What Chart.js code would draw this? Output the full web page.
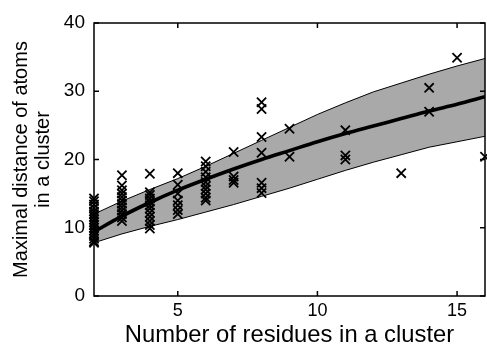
<!DOCTYPE html>
<html>
<head>
<meta charset="utf-8">
<script src="https://cdn.jsdelivr.net/npm/chart.js@4/dist/chart.umd.min.js"></script>
<style>
html,body{margin:0;padding:0;background:#fff;}
#wrap{width:487px;height:347px;}
</style>
</head>
<body>
<div id="wrap"><canvas id="c" width="487" height="347"></canvas></div>
<script>
// ---- data ----
const scatterX = [
  2,2,2,2,2,2,2,2,2,2,2,2,2,2,2,2,2,
  3,3,3,3,3,3,3,3,3,3,3,3,
  4,4,4,4,4,4,4,4,4,4,4,4,
  5,5,5,5,5,5,5,
  6,6,6,6,6,6,6,6,6,6,
  7,7,7,7,
  8,8,8,8,8,8,8,
  9,9,
  11,11,11,
  13,
  14,14,
  15,
  16
];
const scatterY = [
  14.3,13.9,13.4,12.9,12.4,12.0,11.6,11.2,10.8,10.4,10.0,9.6,9.2,8.8,8.4,8.0,7.8,
  17.7,16.2,15.5,15.0,14.5,14.0,13.5,13.0,12.5,12.0,11.5,11.0,
  17.9,15.2,14.8,14.3,13.8,13.3,12.8,12.2,11.6,11.0,10.4,9.9,
  18.0,16.3,15.0,14.0,13.3,12.6,12.0,
  19.7,19.0,18.2,17.4,16.7,16.1,15.6,15.0,14.4,14.0,
  21.1,17.5,17.0,16.6,
  28.4,27.4,23.3,21.0,16.6,15.8,15.1,
  24.5,20.4,
  24.3,20.6,20.0,
  18.0,
  30.5,27.0,
  34.9,
  20.4
];
const curveX = [2,3,4,5,6,7,8,9,10,11,12,13,14,15,16];
const fitY   = [9.4,11.7,13.7,15.5,17.1,18.6,20.0,21.3,22.6,23.8,24.9,26.0,27.1,28.1,29.2];
const upperY = [12.0,13.9,15.6,17.2,19.0,20.9,22.8,24.7,26.6,28.3,29.9,31.2,32.5,33.7,34.8];
const lowerY = [7.8,9.1,10.2,11.2,12.3,13.4,14.6,15.8,17.1,18.4,19.6,20.7,21.8,22.6,23.4];
const xTicks = [5,10,15];
const yTicks = [0,10,20,30,40];
const xTitle = 'Number of residues in a cluster';
const yTitle = ['Maximal distance of atoms','in a cluster'];

const toPts = (xs, ys) => xs.map((x,i)=>({x:x,y:ys[i]}));

const frame = {
  id:'frame',
  afterDatasetsDraw(chart){
    const {ctx, chartArea:a, scales} = chart;
    ctx.save();
    ctx.strokeStyle = '#000';
    ctx.lineWidth = 1.5;
    ctx.strokeRect(a.left, a.top, a.right-a.left, a.bottom-a.top);
    const L = 5;
    ctx.beginPath();
    xTicks.forEach(v=>{
      const p = scales.x.getPixelForValue(v);
      ctx.moveTo(p, a.bottom); ctx.lineTo(p, a.bottom-L);
      ctx.moveTo(p, a.top); ctx.lineTo(p, a.top+L);
    });
    yTicks.forEach(v=>{
      const p = scales.y.getPixelForValue(v);
      ctx.moveTo(a.left, p); ctx.lineTo(a.left+L, p);
      ctx.moveTo(a.right, p); ctx.lineTo(a.right-L, p);
    });
    ctx.stroke();
    ctx.restore();
  }
};

new Chart(document.getElementById('c'), {
  type:'line',
  data:{
    datasets:[
      {data:toPts(curveX, lowerY), borderColor:'#000', borderWidth:1, pointRadius:0, fill:false, tension:0, order:3},
      {data:toPts(curveX, upperY), borderColor:'#000', borderWidth:1, pointRadius:0, fill:'-1', backgroundColor:'#a9a9a9', tension:0, order:3},
      {type:'scatter', data:toPts(scatterX, scatterY), pointStyle:'crossRot', pointRadius:6.5, borderColor:'#000', pointBorderWidth:1.8, borderWidth:1.8, backgroundColor:'#000', clip:false, order:2},
      {data:toPts(curveX, fitY), borderColor:'#000', borderWidth:3.6, pointRadius:0, fill:false, tension:0.4, cubicInterpolationMode:'monotone', order:1}
    ]
  },
  options:{
    responsive:false,
    animation:false,
    layout:{autoPadding:false, padding:{top:23,right:2,left:0,bottom:0}},
    plugins:{legend:{display:false}, tooltip:{enabled:false}},
    scales:{
      x:{
        type:'linear', min:2, max:16,
        afterBuildTicks(s){ s.ticks = xTicks.map(v=>({value:v})); },
        afterFit(s){ s.height = 51; s.paddingLeft = 0; s.paddingRight = 0; },
        grid:{display:false, drawTicks:false},
        border:{display:false},
        ticks:{color:'#000', padding:4, font:{family:'Liberation Sans', size:18}, maxRotation:0},
        title:{display:true, text:xTitle, color:'#000', font:{family:'Liberation Sans', size:23.8, lineHeight:1.0}, padding:{top:0,bottom:0}}
      },
      y:{
        type:'linear', min:0, max:40,
        afterBuildTicks(s){ s.ticks = yTicks.map(v=>({value:v})); },
        afterFit(s){ s.width = 94; s.paddingTop = 0; s.paddingBottom = 0; },
        grid:{display:false, drawTicks:false},
        border:{display:false},
        ticks:{color:'#000', padding:9, font:{family:'Liberation Sans', size:19}},
        title:{display:true, text:yTitle, color:'#000', font:{family:'Liberation Sans', size:20, lineHeight:1.1}, padding:{top:10,bottom:0}}
      }
    }
  },
  plugins:[frame]
});
</script>
</body>
</html>
